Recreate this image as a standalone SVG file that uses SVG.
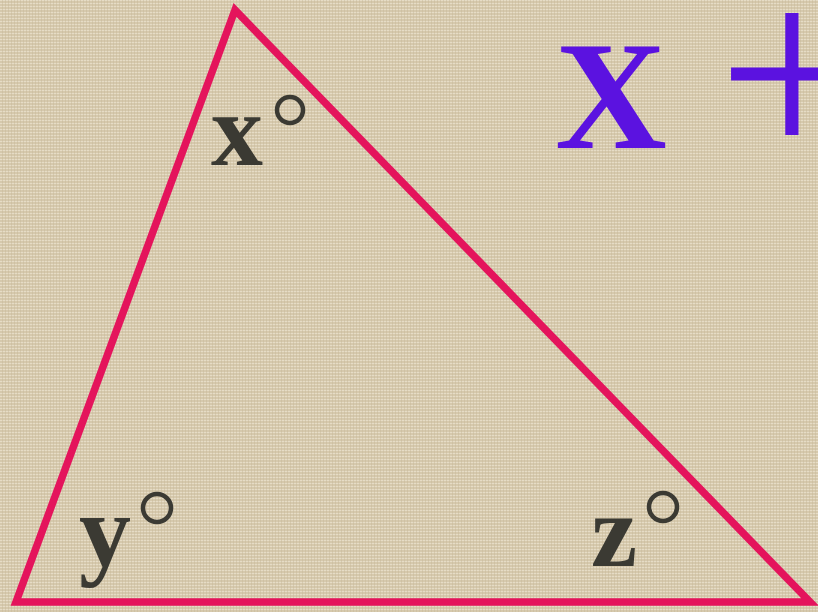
<svg xmlns="http://www.w3.org/2000/svg" width="818" height="612" viewBox="0 0 818 612">
  <defs>
    <pattern id="tex" width="6" height="6" patternUnits="userSpaceOnUse">
      <rect width="6" height="6" fill="#d6c9ad"/>
      <path d="M0 0.5H6M0 3.5H6" stroke="#e6dcc6" stroke-width="1"/>
      <path d="M2.5 0V6M5.5 0V6" stroke="#c6b799" stroke-width="0.8" opacity="0.6"/>
    </pattern>
    <style>
      .lbl { font-family: "Liberation Serif", "Times New Roman", serif; font-weight: bold; font-size: 104px; fill: #3b3a33; }
      .deg { fill: none; stroke: #3b3a33; stroke-width: 4.5; }
      .tri { fill: none; stroke: #e4145c; stroke-width: 7.5; stroke-linejoin: miter; }
      .purple { font-family: "Liberation Serif", "Times New Roman", serif; fill: #5b12e0; }
    </style>
  </defs>
  <rect width="818" height="612" fill="url(#tex)"/>
  <g id="triangle">
    <polygon class="tri" points="235,10 16,602 810,602"/>
  </g>
  <g id="label-x">
    <text class="lbl" x="211" y="165">x</text>
    <circle class="deg" cx="290" cy="110" r="13"/>
  </g>
  <g id="label-y">
    <text class="lbl" x="79" y="566">y</text>
    <circle class="deg" cx="157" cy="508" r="14"/>
  </g>
  <g id="label-z">
    <text class="lbl" x="591" y="566">z</text>
    <circle class="deg" cx="663" cy="507" r="14"/>
  </g>
  <g id="expression">
    <text class="purple" x="555" y="148" font-size="155" font-weight="bold">X</text>
    <text class="purple" x="718" y="161" font-size="262">+</text>
  </g>
</svg>
